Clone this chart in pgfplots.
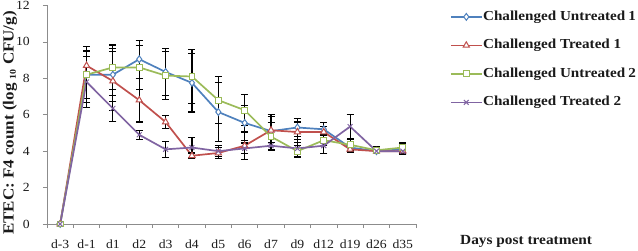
\documentclass[border=0pt]{standalone}
\usepackage{fontspec}
\setmainfont{Liberation Serif}[FakeStretch=1.1]
\usepackage{pgfplots}
\usepackage{pgfplotstable}
\pgfplotsset{compat=1.18}
\definecolor{cuA}{HTML}{4F81BD}
\definecolor{ctA}{HTML}{C0504D}
\definecolor{cuB}{HTML}{9BBB59}
\definecolor{ctB}{HTML}{8064A2}
\definecolor{axgray}{HTML}{8C8C8C}
\definecolor{txt}{HTML}{1A1A1A}

\pgfplotstableread{
x y e
0 0 0
1 8.2 1.55
2 8.2 1.45
3 9.05 1.05
4 8.35 1.3
5 7.75 1.6
6 6.15 1.6
7 5.55 0.95
8 5.1 0.8
9 5.3 0.5
10 5.2 0.35
11 4.2 0.2
12 4.0 0.15
13 4.1 0.2
}\tabUA

\pgfplotstableread{
x y e
0 0 0
1 8.7 0.5
2 7.85 1.6
3 6.8 1.2
4 5.6 0.35
5 3.75 0.15
6 3.9 0.3
7 4.3 0.75
8 5.15 0.85
9 5.05 0.55
10 5.05 0.3
11 4.1 0.15
12 4.0 0.15
13 4.0 0.2
}\tabTA

\pgfplotstableread{
x y e
0 0 0
1 8.2 1.3
2 8.6 1.23
3 8.6 1.2
4 8.15 1.3
5 8.1 1.5
6 6.8 1.3
7 6.25 0.85
8 4.8 0.75
9 4.0 0.3
10 4.6 0.3
11 4.35 0.3
12 4.05 0.2
13 4.2 0.25
}\tabUB

\pgfplotstableread{
x y e
0 0 0
1 7.8 1.4
2 6.35 0.7
3 4.9 0.25
4 4.1 0.45
5 4.2 0.55
6 4.0 0.3
7 4.15 0.3
8 4.3 0.2
9 4.15 0.5
10 4.3 0.45
11 5.35 0.65
12 4.0 0.15
13 4.0 0.2
}\tabTB

\begin{document}
\begin{tikzpicture}
\path[use as bounding box] (0,0) rectangle (638bp,251bp);
\begin{axis}[
  at={(47bp,27bp)}, anchor=south west,
  scale only axis, width=369bp, height=218.5bp,
  xmin=-0.5, xmax=13.5, ymin=0, ymax=12,
  axis lines*=left,
  axis line style={draw=axgray, line width=0.8bp, -},
  xtick={0,...,13},
  xticklabels={d-3,d-1,d1,d2,d3,d4,d5,d6,d7,d9,d12,d19,d26,d35},
  minor xtick={-0.5,0.5,...,13.5},
  ytick={0,2,...,12},
  tick align=outside,
  major tick length=4bp, minor tick length=4bp,
  every tick/.style={draw=axgray, line width=0.8bp},
  every major x tick/.style={draw=none},
  /pgf/number format/assume math mode=true,
  ticklabel style={font=\fontsize{12.5}{14}\selectfont, text=txt},
  xticklabel style={anchor=base, yshift=-20.5bp},
  yticklabel style={anchor=east, inner sep=0pt, xshift=-13bp},
  clip=false,
  error bars/y dir=both,
  error bars/y explicit,
  error bars/error mark=|,
  error bars/error mark options={black, mark size=3.5bp, line width=1.1bp, solid},
  error bars/error bar style={black, line width=1.1bp, solid},
  every axis plot/.append style={line width=1.7bp},
  legend style={
    at={(1.092,0.98)}, anchor=north west,
    draw=none, fill=none, inner sep=0pt, outer sep=0pt,
    text=txt,
    row sep=14.5bp,
    nodes={inner sep=0.5bp, outer sep=0pt, text height=10bp, text depth=3bp},
    /tikz/every even column/.append style={column sep=0bp},
  },
  legend cell align=left,
  legend image code/.code={
    \draw[mark repeat=2, mark phase=2, #1] plot coordinates {(0bp,0bp) (15.5bp,0bp) (31bp,0bp)};
  },
]
\addplot[color=cuA, mark=diamond*, mark size=3.4bp, mark options={fill=white, line width=1bp}]
  table[x=x, y=y, y error=e] {\tabUA};
\addlegendentry{\bfseries\fontsize{13.8}{16}\selectfont Challenged Untreated\hspace{3bp}1}
\addplot[color=ctA, mark=triangle*, mark size=3.6bp, mark options={fill=white, line width=1bp}]
  table[x=x, y=y, y error=e] {\tabTA};
\addlegendentry{\bfseries\fontsize{13.8}{16}\selectfont Challenged Treated 1}
\addplot[color=cuB, mark=square*, mark size=2.9bp, mark options={fill=white, line width=1bp}]
  table[x=x, y=y, y error=e] {\tabUB};
\addlegendentry{\bfseries\fontsize{13.8}{16}\selectfont Challenged Untreated\hspace{3bp}2}
\addplot[color=ctB, mark=x, mark size=3.4bp, mark options={line width=1bp}]
  table[x=x, y=y, y error=e] {\tabTB};
\addlegendentry{\bfseries\fontsize{13.8}{16}\selectfont Challenged Treated 2}
\end{axis}
\node[rotate=90, font=\bfseries\fontsize{15.5}{17}\selectfont, text=txt, inner sep=0pt]
  at (10bp,128bp) {ETEC: F4 count (log \raisebox{-0.3ex}{\fontsize{9}{10}\selectfont 10} CFU/g)};
\node[anchor=base west, font=\bfseries\fontsize{14}{16}\selectfont, text=txt, inner sep=0pt]
  at (460bp,6.5bp) {Days post treatment};
\end{tikzpicture}
\end{document}
